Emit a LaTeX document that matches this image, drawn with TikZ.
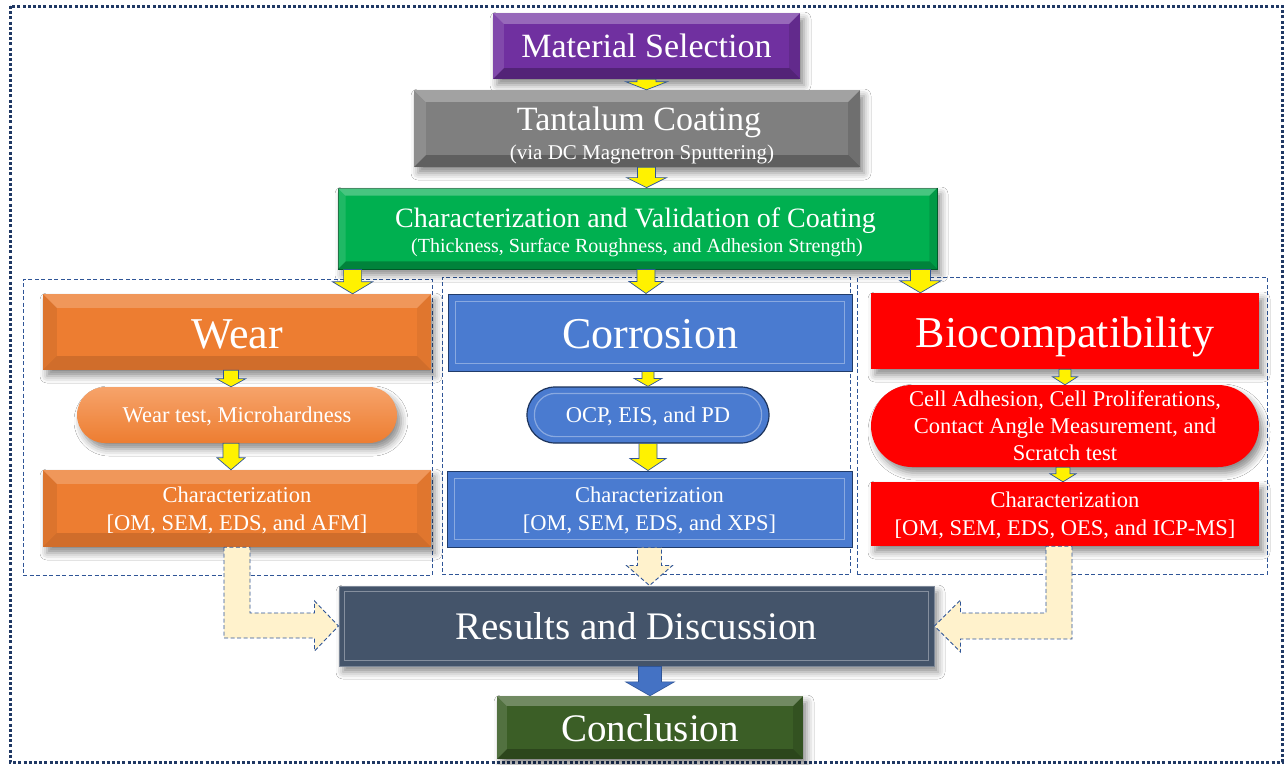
\documentclass[tikz,border=0pt]{standalone}
\usepackage{fontspec}
\setmainfont{Liberation Serif}
\usetikzlibrary{calc,shadows.blur}
\definecolor{purp}{HTML}{7030A0}
\definecolor{graybox}{HTML}{7F7F7F}
\definecolor{greenbox}{HTML}{00B050}
\definecolor{orangebox}{HTML}{ED7D31}
\definecolor{orangelight}{HTML}{F6A36A}
\definecolor{bluebox}{HTML}{4A7BD0}
\definecolor{blueedge}{HTML}{2F5597}
\definecolor{redbox}{HTML}{FF0000}
\definecolor{slatebox}{HTML}{44546A}
\definecolor{concl}{HTML}{3B5E26}
\definecolor{creamc}{HTML}{FFF2CC}
\definecolor{dashc}{HTML}{2F5597}
\definecolor{outerc}{HTML}{1F3864}
\definecolor{arrowblue}{HTML}{4472C4}
\newcommand\bev[2]{%
 \fill[white,opacity=.28] (#1.north west) -- (#1.north east) -- ([xshift=-#2pt,yshift=-#2pt]#1.north east) -- ([xshift=#2pt,yshift=-#2pt]#1.north west) -- cycle;
 \fill[white,opacity=.12] (#1.north west) -- ([xshift=#2pt,yshift=-#2pt]#1.north west) -- ([xshift=#2pt,yshift=#2pt]#1.south west) -- (#1.south west) -- cycle;
 \fill[black,opacity=.25] (#1.south west) -- (#1.south east) -- ([xshift=-#2pt,yshift=#2pt]#1.south east) -- ([xshift=#2pt,yshift=#2pt]#1.south west) -- cycle;
 \fill[black,opacity=.12] (#1.north east) -- ([xshift=-#2pt,yshift=-#2pt]#1.north east) -- ([xshift=-#2pt,yshift=#2pt]#1.south east) -- (#1.south east) -- cycle;}
\newcommand\bevsoft[2]{%
 \fill[white,opacity=.2] (#1.north west) -- (#1.north east) -- ([xshift=-#2pt,yshift=-#2pt]#1.north east) -- ([xshift=#2pt,yshift=-#2pt]#1.north west) -- cycle;
 \fill[black,opacity=.07] (#1.north west) -- ([xshift=#2pt,yshift=-#2pt]#1.north west) -- ([xshift=#2pt,yshift=#2pt]#1.south west) -- (#1.south west) -- cycle;
 \fill[black,opacity=.12] (#1.south west) -- (#1.south east) -- ([xshift=-#2pt,yshift=#2pt]#1.south east) -- ([xshift=#2pt,yshift=#2pt]#1.south west) -- cycle;
 \fill[black,opacity=.05] (#1.north east) -- ([xshift=-#2pt,yshift=-#2pt]#1.north east) -- ([xshift=-#2pt,yshift=#2pt]#1.south east) -- (#1.south east) -- cycle;}
\newcommand\frm[2]{%
 \draw[white,opacity=.35,line width=1.5pt] ([xshift=#2pt,yshift=-#2pt]#1.north west) rectangle ([xshift=-#2pt,yshift=#2pt]#1.south east);}
\newcommand\barrow[6]{%
 \path[#1] let \p1=(#2), \p2=(#3) in (\x1-#4pt,\y1) -- (\x1+#4pt,\y1) -- (\x1+#4pt,\y2+#6pt) -- (\x1+#5pt,\y2+#6pt) -- (\x1,\y2) -- (\x1-#5pt,\y2+#6pt) -- (\x1-#4pt,\y2+#6pt) -- cycle;}
\tikzset{
 box/.style={rectangle, inner sep=0pt, text=white, align=center, text depth=0pt},
 shad/.style={blur shadow={shadow xshift=4pt, shadow yshift=-6pt, shadow blur radius=7pt, shadow opacity=45}},
 big/.style={font=\fontsize{44}{50}\selectfont, text height=32pt},
 mid/.style={font=\fontsize{34}{40}\selectfont},
 small/.style={font=\fontsize{22.5}{28}\selectfont},
 grp/.style={draw=dashc, dashed, dash pattern=on 4pt off 2.5pt, line width=0.8pt},
 yarrow/.style={fill=yellow, draw=blueedge, line width=0.7pt, line join=miter},
 cream/.style={fill=creamc, draw=dashc, dash pattern=on 4pt off 2.5pt, line width=0.9pt},
 bluearrow/.style={fill=arrowblue, draw=blueedge, line width=0.6pt},
 txt/.style={inner sep=0pt, text=white, anchor=base},
}
\begin{document}
\begin{tikzpicture}[x=1pt,y=-1pt]
\useasboundingbox[fill=white] (0,0) rectangle (1286,764);
\draw[outerc, line width=3pt, dash pattern=on 3pt off 2.2pt] (10,6) rectangle (1282,762);

% group frames
\node[grp, minimum width=409pt, minimum height=296pt] (g1) at (227.5,427) {};
\node[grp, minimum width=408pt, minimum height=297pt] (g2) at (646,425.5) {};
\node[grp, minimum width=410pt, minimum height=297pt] (g3) at (1062,425.5) {};

% top chain
\node[box, shad, fill=purp, minimum width=307pt, minimum height=66pt, mid] (ms) at (646.5,46) {Material Selection};
\bev{ms}{11}
\node[box, shad, fill=graybox, minimum width=446pt, minimum height=77pt] (tc) at (637,128.5) {};
\bev{tc}{12}
\node[txt, font=\fontsize{34}{40}\selectfont] (tct) at (639,130) {Tantalum Coating};
\node[txt, font=\fontsize{21}{24}\selectfont] (tcs) at (642,159) {(via DC Magnetron Sputtering)};
\node[box, shad, fill=greenbox, draw=black!45!greenbox, line width=0.8pt, minimum width=599pt, minimum height=81pt] (gv) at (637.5,228.5) {};
\bev{gv}{8}
\node[txt, font=\fontsize{28}{32}\selectfont] (gvt) at (635.5,227) {Characterization and Validation of Coating};
\node[txt, font=\fontsize{20}{24}\selectfont] (gvs) at (637,252) {(Thickness, Surface Roughness, and Adhesion Strength)};

% wear column
\node[box, shad, fill=orangebox, minimum width=388pt, minimum height=76pt, big] (wear) at (237,332) {Wear};
\bevsoft{wear}{14}
\node[box, shad, top color=orangelight, bottom color=orangebox, minimum width=320pt, minimum height=56pt, rounded corners=28pt, small] (wp) at (237,415) {Wear test, Microhardness};
\node[box, shad, fill=orangebox, minimum width=388pt, minimum height=77pt, small] (wc) at (237,508.5) {Characterization\\{}[OM, SEM, EDS, and AFM]};
\bevsoft{wc}{14}

% corrosion column
\node[box, fill=bluebox, draw=blueedge!70!black, line width=1pt, minimum width=404pt, minimum height=77pt, big] (cor) at (650,332.5) {Corrosion};
\frm{cor}{8}
\node[box, fill=bluebox, draw=blueedge!60!black, line width=1.2pt, minimum width=242pt, minimum height=56pt, rounded corners=28pt, small] (cp) at (648,415) {OCP, EIS, and PD};
\draw[white, opacity=.35, line width=1.2pt, rounded corners=21pt] ([xshift=8pt,yshift=-7pt]cp.north west) rectangle ([xshift=-8pt,yshift=7pt]cp.south east);
\node[box, fill=bluebox, draw=blueedge!70!black, line width=1pt, minimum width=405pt, minimum height=76pt, small] (cc2) at (649.5,509) {Characterization\\{}[OM, SEM, EDS, and XPS]};
\frm{cc2}{8}

% biocompatibility column
\node[box, shad, fill=redbox, minimum width=388pt, minimum height=76pt, big] (bio) at (1065,331) {Biocompatibility};
\node[box, shad, fill=redbox, minimum width=388pt, minimum height=82pt, rounded corners=41pt, font=\fontsize{22.5}{27}\selectfont] (bp) at (1065,426) {Cell Adhesion, Cell Proliferations,\\Contact Angle Measurement, and\\Scratch test};
\node[box, shad, fill=redbox, minimum width=388pt, minimum height=64pt, small] (bc) at (1065,514) {Characterization\\{}[OM, SEM, EDS, OES, and ICP-MS]};

% results and conclusion
\node[box, shad, fill=slatebox, draw=slatebox!70!white, line width=1pt, minimum width=595pt, minimum height=80pt, font=\fontsize{39}{44}\selectfont] (rd) at (636.5,626) {Results and Discussion};
\frm{rd}{6}
\node[box, shad, fill=concl, minimum width=306pt, minimum height=63pt, font=\fontsize{39}{44}\selectfont] (cc) at (650,727.5) {Conclusion};
\bev{cc}{10}

% yellow arrows
\barrow{yarrow}{ms.south}{tc.north}{9.5}{20.5}{8}
\barrow{yarrow}{tc.south -| ms.south}{gv.north}{9}{20}{10}
\barrow{yarrow}{$(gv.south west)+(15,0)$}{wear.north}{9}{20}{12}
\barrow{yarrow}{$(gv.south)+(8.5,0)$}{cor.north}{9}{17}{12}
\barrow{yarrow}{$(gv.south east)+(-17,0)$}{bio.north}{10}{20.5}{12}
\barrow{yarrow}{[xshift=-6pt]wear.south}{wp.north}{7.5}{14.5}{8}
\barrow{yarrow}{[xshift=-6pt]wp.south}{wc.north}{8}{14}{12}
\barrow{yarrow}{[xshift=-2pt]cor.south}{cp.north}{6}{14}{8}
\barrow{yarrow}{cp.south}{cc2.north}{9}{18}{12}
\barrow{yarrow}{bio.south}{bp.north}{6}{12.5}{8}
\barrow{yarrow}{[xshift=-2pt]bp.south}{bc.north}{7}{13}{8}

% cream arrows into results
\path[cream] let \p1=(wc.south), \p2=(rd.west) in
 (\x1-13pt,\y1) -- (\x1-13pt,\y2-12pt) -- (\x2-24pt,\y2-12pt) -- (\x2-24pt,\y2-25pt) -- (\x2,\y2) -- (\x2-24pt,\y2+25pt) -- (\x2-24pt,\y2+13pt) -- (\x1+13pt,\y2+13pt) -- (\x1+13pt,\y1) -- cycle;
\path[cream] let \p1=([xshift=-6pt]bc.south), \p2=(rd.east) in
 (\x1+13pt,\y1) -- (\x1+13pt,\y2-13pt) -- (\x2+26pt,\y2-13pt) -- (\x2+26pt,\y2-26pt) -- (\x2,\y2) -- (\x2+26pt,\y2+26pt) -- (\x2+26pt,\y2+13pt) -- (\x1-13pt,\y2+13pt) -- (\x1-13pt,\y1) -- cycle;
\barrow{cream}{cc2.south}{rd.north}{12}{23}{20}

% blue arrow
\barrow{bluearrow}{rd.south -| cc.north}{cc.north}{11.5}{24.5}{14}
\end{tikzpicture}
\end{document}
